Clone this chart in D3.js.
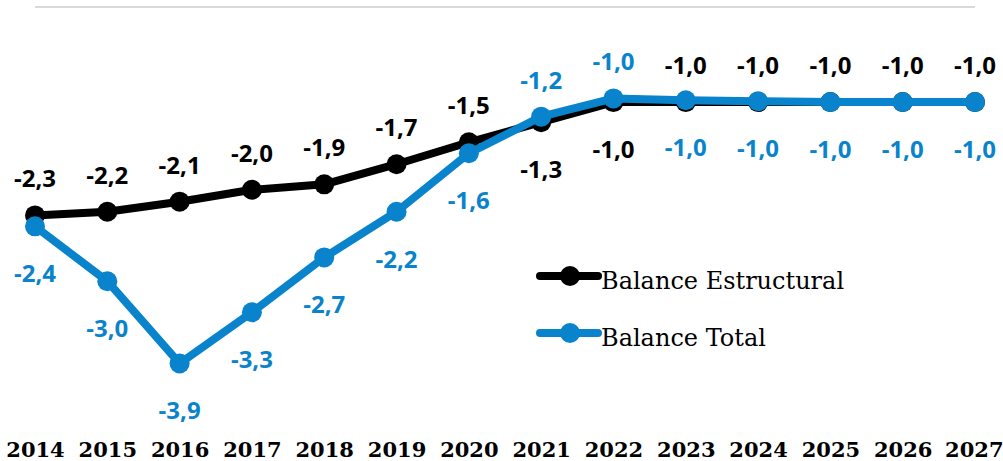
<!DOCTYPE html>
<html><head><meta charset="utf-8">
<script src="https://cdn.jsdelivr.net/npm/d3@7"></script>
<style>html,body{margin:0;padding:0;background:#fff;overflow:hidden}</style>
</head><body>
<svg id="c" width="1003" height="461"></svg>
<script>
const years = ["2014","2015","2016","2017","2018","2019","2020","2021","2022","2023","2024","2025","2026","2027"];
const estructural = [-2.28,-2.24,-2.13,-2.0,-1.94,-1.72,-1.48,-1.26,-1.04,-1.04,-1.04,-1.04,-1.04,-1.04];
const total = [-2.4,-3.0,-3.9,-3.34,-2.74,-2.24,-1.6,-1.2,-1.0,-1.02,-1.03,-1.04,-1.04,-1.04];
// label placement: 1 = above, -1 = below
const estructuralPos = [1,1,1,1,1,1,1,-1,-1,1,1,1,1,1];
const totalPos = [-1,-1,-1,-1,-1,-1,-1,1,1,-1,-1,-1,-1,-1];
const seriesNames = ["Balance Estructural","Balance Total"];
const colors = ["#000000","#0984cc"];

const svg = d3.select("#c");
const x = d3.scalePoint().domain(years).range([35,975]);
const y = d3.scaleLinear().domain([-4.5,0]).range([418.3,7]);
const fmt = v => d3.format(".1f")(v).replace(".",",").replace("−","-");

// zero line
svg.append("line").attr("x1",35).attr("x2",975).attr("y1",y(0)).attr("y2",y(0))
  .attr("stroke","#d9d9d9").attr("stroke-width",2);

// x axis labels
const xa = svg.append("g").attr("transform","translate(0,457)")
  .call(d3.axisBottom(x).tickSize(0).tickPadding(0));
xa.select(".domain").remove();
xa.selectAll("text").attr("dy",0).attr("y",0)
  .attr("font-family","DejaVu Serif").attr("font-weight","bold").attr("font-size",21).attr("fill","#000");
xa.selectAll(".tick").filter(d=>d==="2027").select("text").attr("text-anchor","end").attr("x",28);

const line = d3.line().x((d,i)=>x(years[i])).y(d=>y(d));
const data = [estructural,total];
const pos = [estructuralPos,totalPos];
data.forEach((s,k)=>{
  svg.append("path").datum(s).attr("d",line).attr("fill","none")
    .attr("stroke",colors[k]).attr("stroke-width",8).attr("stroke-linejoin","round");
  svg.append("g").selectAll("circle").data(s).join("circle")
    .attr("cx",(d,i)=>x(years[i])).attr("cy",d=>y(d)).attr("r",10).attr("fill",colors[k]);
});
data.forEach((s,k)=>{
  svg.append("g").selectAll("text").data(s).join("text")
    .attr("x",(d,i)=>x(years[i]))
    .attr("y",(d,i)=>y(d) + (pos[k][i]>0 ? -28 : 56))
    .attr("text-anchor","middle")
    .attr("font-family","Open Sans").attr("font-weight","bold").attr("font-size",24)
    .attr("fill",colors[k]).text(d=>fmt(d));
});

// legend
const lg = svg.append("g");
seriesNames.forEach((n,k)=>{
  const ly = 276 + k*57;
  lg.append("line").attr("x1",540).attr("x2",598).attr("y1",ly).attr("y2",ly)
    .attr("stroke",colors[k]).attr("stroke-width",8).attr("stroke-linecap","round");
  lg.append("circle").attr("cx",570).attr("cy",ly).attr("r",10).attr("fill",colors[k]);
  lg.append("text").attr("x",601).attr("y",ly+13).attr("font-family","DejaVu Serif")
    .attr("font-size",24).attr("fill","#000").text(n);
});
</script>
</body></html>
